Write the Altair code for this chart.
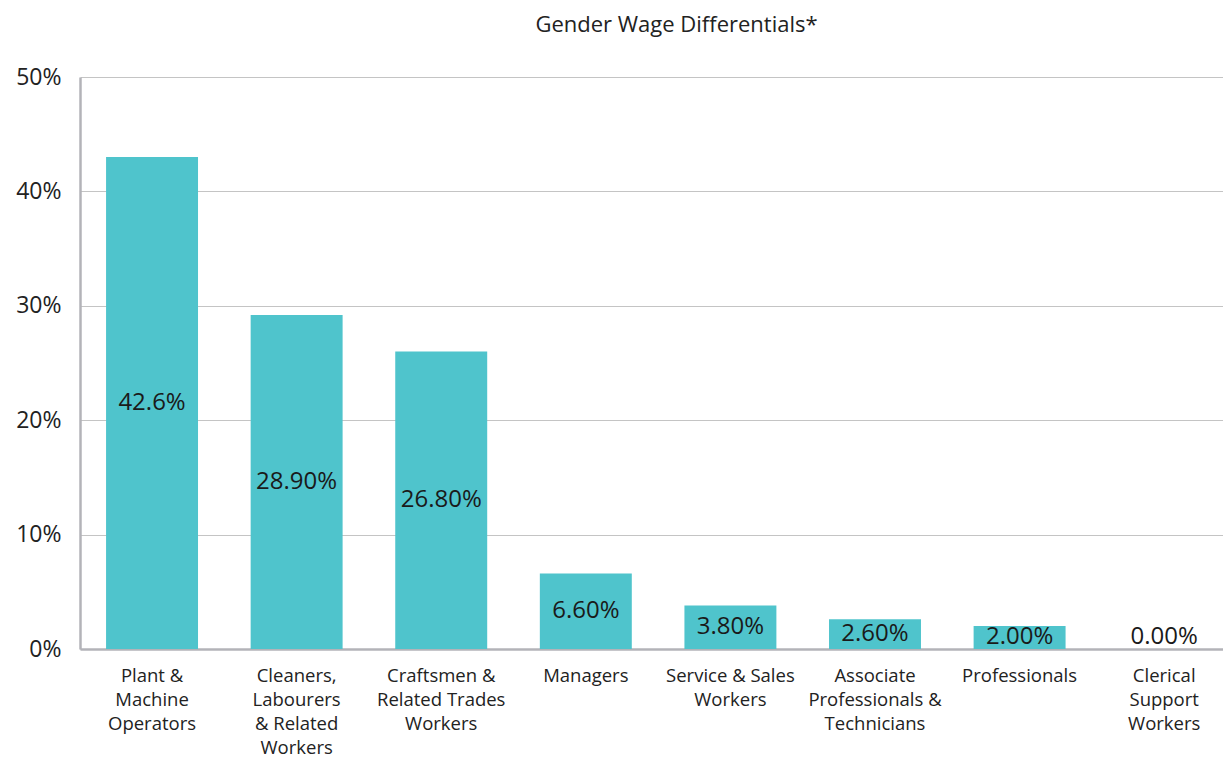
import altair as alt
import pandas as pd

# Data
tick_labels = [
    "Plant &|Machine|Operators",
    "Cleaners,|Labourers|& Related|Workers",
    "Craftsmen &|Related Trades|Workers",
    "Managers",
    "Service & Sales|Workers",
    "Associate|Professionals &|Technicians",
    "Professionals",
    "Clerical|Support|Workers",
]
bar_values = [43.0, 29.2, 26.0, 6.6, 3.8, 2.6, 2.0, 0.0]
value_labels = ["42.6%", "28.90%", "26.80%", "6.60%", "3.80%", "2.60%", "2.00%", "0.00%"]
y_ticks = [0, 10, 20, 30, 40, 50]

df = pd.DataFrame({"cat": tick_labels, "value": bar_values, "label": value_labels})

FONT = "Open Sans"
BAR = "#4FC4CC"
AXIS_GRAY = "#b3b3b8"
GRID_GRAY = "#c4c4c4"

x_enc = alt.X(
    "cat:N",
    sort=tick_labels,
    scale=alt.Scale(paddingInner=0.364, paddingOuter=0.1345, align=0.67, round=False),
    axis=alt.Axis(
        title=None,
        labelAngle=0,
        labelExpr="split(datum.label, '|')",
        labelFont=FONT,
        labelFontSize=18.5,
        labelLineHeight=24,
        labelColor="#222222",
        labelPadding=17,
        labelBaseline="top",
        ticks=False,
        tickSize=0,
        domainColor=AXIS_GRAY,
        domainWidth=2.5,
        grid=False,
        labelLimit=300,
    ),
)

bars = alt.Chart(df).mark_bar(color=BAR).encode(
    x=x_enc,
    y=alt.Y(
        "value:Q",
        scale=alt.Scale(domain=[0, 50], nice=False),
        axis=alt.Axis(
            title=None,
            values=y_ticks,
            labelExpr="datum.value + '%'",
            labelFont=FONT,
            labelFontSize=23,
            labelColor="#222222",
            labelPadding=19,
            ticks=False,
            tickSize=0,
            domainColor=AXIS_GRAY,
            domainWidth=2.5,
            gridColor=GRID_GRAY,
            gridWidth=1,
        ),
    ),
)

texts = alt.Chart(df).transform_calculate(
    mid="max(datum.value / 2, 1.05)"
).mark_text(
    font=FONT, fontSize=24, color="#1a1a1a", baseline="middle", align="center"
).encode(
    x=alt.X("cat:N", sort=tick_labels),
    y=alt.Y("mid:Q"),
    text="label:N",
)

chart = alt.layer(bars, texts).properties(
    width=1143,
    height=572,
    autosize=alt.AutoSizeParams(type="none"),
    padding={"left": 72, "top": 69, "right": 0, "bottom": 118},
    title=alt.TitleParams(
        "Gender Wage Differentials*",
        font=FONT,
        fontSize=22,
        fontWeight="normal",
        color="#222222",
        offset=29,
        dx=25,
        anchor="middle",
    ),
).configure_view(strokeWidth=0)

chart.save("out.html", embed_options={"renderer": "svg", "actions": False})
